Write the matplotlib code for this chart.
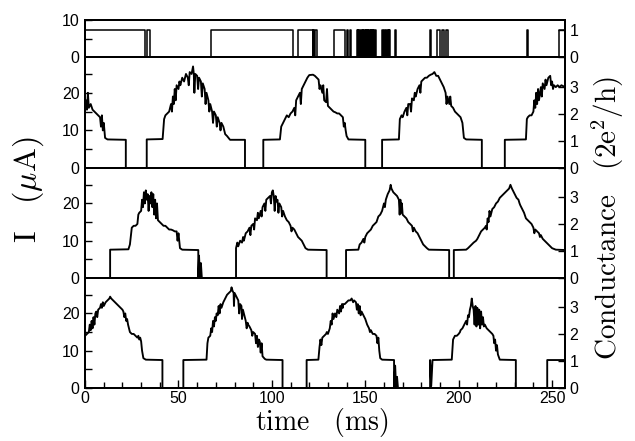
import matplotlib
matplotlib.use('Agg')
import matplotlib.pyplot as plt
from matplotlib.ticker import MultipleLocator, FixedLocator

plt.rcParams['mathtext.fontset'] = 'cm'
plt.rcParams['font.family'] = ['Liberation Sans', 'DejaVu Sans']

# ---------------- data ----------------
G_UNIT = 7.2        # current (uA) per conductance quantum 2e^2/h on the right axes
GATE_LEVEL = 7.3    # height of the "on" level in the top panel

# top panel: on/off pulses (ms)
gate_on = [0, 32.9, 67.2, 114.2, 122.2, 123.3, 133.0, 140.2, 141.6,
           145.4, 146.3, 147.1, 148.0, 148.9, 149.7, 150.6, 151.5, 152.3, 153.2,
           154.1, 155.0, 158.8, 159.8, 160.9, 161.9, 162.8, 166.1,
           184.6, 188.3, 191.0, 193.1, 236.6, 253.5]
gate_off = [32.1, 35.0, 111.2, 121.8, 122.7, 124.3, 139.2, 140.6, 142.1,
            146.0, 146.9, 147.8, 148.6, 149.5, 150.4, 151.2, 152.1, 153.0, 153.9,
            154.8, 156.0, 159.5, 160.5, 161.6, 162.5, 163.3, 166.5,
            185.0, 190.0, 192.4, 194.5, 237.0, 257.0]

# panel 2 trace
t1 = [0, 0.5, 1, 1.5, 2, 3, 4, 5, 6, 7, 8, 8.5, 9, 9.5, 10, 10.7, 12, 21.8, 21.8, 33, 33,
      41.5, 42.3, 43, 44, 45, 46, 46.5, 47, 47.5, 48, 48.5, 49, 50, 50.5, 51, 52, 53, 54, 55,
      55.5, 56, 57, 57.8, 58.2, 58.5, 59, 60, 60.5, 61, 62, 62.5, 63, 64, 64.5, 65, 66, 66.5,
      67, 68, 68.5, 69, 70, 70.5, 71, 72, 72.5, 73, 74, 75, 76, 77.6, 85.6, 85.6, 95.4, 95.4,
      104.3, 105, 106, 107, 108, 109, 110, 111, 112, 112.5, 113, 114, 115, 115.5, 116, 117,
      118, 119, 120, 122, 123, 124, 125, 125.5, 126, 127, 127.5, 128, 129, 129.5, 130, 131,
      132, 133, 134, 135, 136, 137, 138, 138.5, 139, 139.5, 140, 141, 150, 150, 159, 159,
      168, 168.5, 169.4, 170, 171, 172, 172.5, 173, 174, 174.5, 175, 176, 176.5, 177, 178,
      179, 179.5, 180, 181, 182, 183, 184, 185, 186, 187, 188, 189, 190, 191, 192, 193,
      193.5, 194, 195, 195.5, 196, 197, 198, 199, 200, 201, 202, 202.8, 204, 212.4, 212.4,
      224.7, 224.7, 236, 236.5, 237, 238, 239, 240, 240.5, 241, 241.5, 242, 242.5, 243, 244,
      244.5, 245, 246, 246.5, 247, 248, 249, 249.5, 250, 250.5, 251, 252, 253, 254, 255, 257]
i1 = [16, 18, 15.5, 20, 16, 17, 15.5, 15, 14.5, 14, 13.5, 11, 14, 10, 12, 8, 7.6, 7.5, 0, 0, 7.6,
      7.7, 13, 14, 14.5, 15, 17, 15, 19, 17, 21, 18, 22, 21, 23, 22, 24, 23, 25, 24,
      22, 25.5, 25, 27, 25, 20, 25, 24.5, 21, 24, 23, 19, 22.5, 21, 17, 20, 18, 15,
      17, 15, 12, 15, 14, 11, 13.5, 12, 10, 12, 11, 9, 8.5, 7.5, 7.5, 0, 0, 7.5,
      7.6, 11, 12, 13, 14, 13.5, 14.5, 15, 16, 14, 18, 19, 20, 17, 21, 22,
      23, 24, 24.7, 24.8, 24.5, 24, 23.5, 21, 22, 20, 22, 18, 17.5, 21, 16.5, 16,
      15.5, 15, 14.8, 14.5, 14.5, 14, 13.5, 11, 12, 10, 8.5, 7.6, 7.5, 0, 0, 7.5,
      7.6, 13, 14, 13.5, 15, 16, 14, 17, 17, 15, 18.5, 18, 20, 19, 21,
      22, 20, 23, 23.5, 24, 24, 24.5, 24.8, 25, 25.5, 24.5, 24.5, 23.5, 22.5, 21.5, 20,
      17, 19, 17, 19, 16.5, 16, 15, 14.5, 14, 13.5, 12, 8, 7.6, 7.5, 0,
      0, 7.5, 7.6, 13, 13.5, 14, 14, 15, 18, 16, 20, 17, 21, 18, 21.5,
      19, 22.5, 21, 23.5, 22, 24, 24.5, 22, 23, 21, 22, 21.5, 22, 21.5, 22, 21.5]

# panel 3 trace
t2 = [0, 13.4, 13.4, 23.2, 24, 25, 26, 27, 28, 28.5, 29, 30, 30.5, 31, 31.5, 32, 32.5, 33,
      33.5, 34, 34.5, 35, 35.5, 36, 36.5, 37, 37.5, 38, 38.5, 39, 40, 41, 42, 43, 44, 45, 46,
      47, 48, 49, 49.5, 50, 50.8, 52, 60.6, 60.6, 61, 61.5, 62, 62.5, 80.8, 80.8, 81.5, 82,
      83, 84, 84.6, 85, 86, 87, 88, 88.5, 89, 90, 90.5, 91, 92, 92.5, 93, 94, 94.5, 95, 96,
      96.5, 97, 98, 99, 99.5, 100, 100.5, 101, 101.5, 102, 102.5, 103, 103.5, 104, 105, 105.5,
      106, 107, 108, 109, 110, 110.5, 111, 112, 113, 114, 115, 116, 117, 118, 119.3, 129.3,
      129.3, 139.7, 139.7, 146.3, 147, 148, 149, 149.5, 150, 151, 152, 153, 154, 155, 156,
      157, 158, 159, 160, 160.5, 161, 162, 163, 163.6, 164, 165, 166, 167, 168, 168.4, 168.8,
      169.2, 169.6, 170, 171, 172, 173, 174, 175, 175.5, 176, 177, 178, 179, 180, 181, 182,
      183, 184, 194.9, 194.9, 197.4, 197.4, 204, 205, 206, 207, 208, 209.3, 210, 211, 212,
      213, 214, 214.6, 215, 215.5, 216, 216.5, 217, 218, 219, 220, 221, 222, 223, 224, 225,
      226, 227, 227.7, 228.5, 229, 230, 231, 232, 232.6, 233, 234, 235, 236, 237, 238, 239,
      240, 240.5, 241, 242, 243, 243.5, 244, 245, 246, 247, 248, 249, 250, 251, 252, 257]
i2 = [0, 0, 7.6, 7.7, 9, 13.5, 14, 14, 14.5, 17, 17.5, 18, 21, 19, 23, 20, 23.5, 21,
      22.5, 18, 22, 20, 23, 19, 22.5, 17, 21, 16, 20, 15.5, 15, 14.5, 14, 14, 13.5, 13, 13,
      12.8, 12.5, 12.5, 10, 12, 8, 7.6, 7.5, 0, 6, 0, 4, 0, 0, 8, 9.5, 8.5,
      10, 9.5, 11, 10, 12, 12.5, 13.5, 11.5, 14, 14.5, 13, 16, 15.5, 17.5, 16, 18, 16.5, 19, 20,
      18, 21, 21.5, 22, 20, 23, 23.5, 22, 18, 22, 20.5, 21, 17.5, 20, 19, 16.5,
      18, 16.5, 15.5, 15, 14, 12.5, 13.5, 13, 12, 11, 10.5, 10, 9, 8, 7.6, 7.5,
      0, 0, 7.5, 7.6, 9, 9.5, 10.5, 9.5, 11, 12, 12.5, 13, 14, 14.5, 15,
      16.5, 17, 18, 20, 19, 21, 22.5, 23.5, 25, 24, 23, 22.5, 22, 21, 17, 21,
      17.5, 20, 17, 16.5, 16, 15, 14.5, 14, 12.5, 13.5, 12.5, 12, 11, 10, 9, 8.5,
      8, 7.6, 7.5, 0, 0, 7.5, 7.6, 8, 8.5, 9, 9.5, 10, 10.5, 11.5, 12.5,
      13, 13.5, 14, 13, 16, 15, 18, 16.5, 18.5, 19, 20, 20.5, 21.5, 22, 22.5, 23,
      23.5, 24, 25, 24, 23.5, 22.5, 21.5, 21, 20, 19.5, 18.5, 17.5, 16, 15.5, 15, 14.5,
      13.5, 12, 13, 12.5, 12, 11, 11.5, 10.5, 10, 9.5, 9, 8.5, 8, 7.8, 7.6, 7.5]

# panel 4 trace
t3 = [0, 1, 2, 2.5, 3, 3.5, 4, 4.5, 5, 5.5, 6, 6.5, 7, 8, 8.5, 9, 9.5, 10, 11, 12, 13, 13.4,
      14, 15, 16, 17, 18, 19, 20, 20.5, 21, 21.5, 22, 22.5, 23, 23.5, 24, 25, 26, 27, 28, 28.5,
      29, 29.5, 30, 30.5, 31.2, 32.5, 41.4, 41.4, 52.6, 52.6, 65, 65.5, 66, 67, 67.5, 68, 68.5,
      69, 69.5, 70, 70.4, 71, 71.5, 72, 72.5, 73, 74, 75, 76, 77, 78, 78.4, 79, 79.5, 79.7, 80,
      81, 82, 82.5, 83, 83.7, 84, 84.5, 85, 86, 86.5, 87, 87.3, 88, 89, 89.5, 90, 91, 91.5, 92,
      92.5, 93, 93.5, 94, 94.5, 95, 96.2, 97, 105.7, 105.7, 118.6, 118.6, 124.9, 125.5, 126,
      126.5, 127, 128, 129, 129.4, 130, 131, 131.5, 132, 132.5, 133, 133.8, 134.5, 135, 136,
      136.5, 137, 137.5, 138, 138.2, 139, 140, 141, 142, 142.7, 143.5, 144, 145, 145.5, 146,
      146.5, 147, 147.5, 148, 149, 150, 151, 152, 152.5, 153, 154, 155, 156, 156.5, 157, 157.5,
      158, 159, 165.4, 165.4, 166, 166.5, 167, 167.5, 184.7, 184.7, 185.3, 186, 196.3, 197, 198,
      199, 200, 200.7, 201, 202, 203, 204, 204.5, 205, 205.5, 206, 206.5, 207, 207.5, 208, 208.5,
      209, 209.5, 210, 210.5, 211, 211.5, 212, 212.5, 213, 213.5, 214, 215, 216, 217, 218, 218.6,
      219, 219.5, 220, 220.5, 221, 222, 230.6, 230.6, 247.4, 247.4, 257]
i3 = [14, 14.5, 15, 17, 15.5, 18, 16, 19, 17, 20, 20.5, 19, 21, 21.5, 22.5, 21.5, 23, 22, 23, 23.5, 24, 24.5,
      24, 23.5, 23, 22.5, 22, 21.5, 21, 20.5, 19, 20, 18, 18.5, 17, 16, 15, 14.5, 14.5, 14, 13.5, 14,
      13, 13.5, 12.5, 10, 8, 7.6, 7.5, 0, 0, 7.5, 7.6, 12, 13.5, 14, 16, 15, 18,
      16.5, 19, 18, 20, 19.5, 22, 20, 22.5, 21.5, 23, 24, 25, 25.5, 26, 27, 26, 25.5, 22, 25.5,
      24.5, 23.5, 20, 22.5, 22, 18.5, 21, 20, 18, 16, 17.5, 17, 16.5, 15.5, 14, 15, 14.5, 12, 14,
      11, 13, 12.5, 9.5, 12, 8.5, 7.8, 7.6, 7.5, 0, 0, 7.5, 7.6, 11, 13,
      11.5, 13.5, 14, 14.5, 15, 14.5, 16, 18, 17, 20, 18.5, 20, 19, 21, 20,
      22, 20.5, 22.5, 21.5, 22.5, 22.5, 23, 23.5, 23.5, 24, 23, 23.5, 23, 21, 22.5,
      20, 22, 19.5, 20.5, 19.5, 18.5, 17, 16, 15, 15.5, 14.5, 14.5, 14, 12, 13.5, 10,
      8, 7.6, 7.5, 0, 6, 0, 3, 0, 0, 7.5, 0.5, 7.5, 7.6, 13, 14,
      14, 14.5, 15, 15.5, 16, 17, 18, 17, 19.5, 19, 21, 22, 24, 22, 21, 17,
      22, 16.5, 21.5, 17, 21, 16, 20.5, 17, 19, 16.5, 17, 16, 15.5, 15, 14.5, 14,
      12, 13, 10, 11.5, 9, 7.6, 7.5, 0, 0, 7.5, 7.5]

# ---------------- figure ----------------
fig = plt.figure(figsize=(6.35, 4.41), dpi=100)
L, W = 0.134, 0.756
ax0 = fig.add_axes([L, 0.8707, W, 0.0839])
ax1 = fig.add_axes([L, 0.619, W, 0.2517])
ax2 = fig.add_axes([L, 0.3696, W, 0.2494])
ax3 = fig.add_axes([L, 0.1202, W, 0.2494])

TICKFS = 11.5
XMAX = 257
IMAX = 29.5

# top panel as a step signal built from on/off times
gx, gy = [], []
for on, off in zip(gate_on, gate_off):
    gx += [on, on, off, off]
    gy += [0, GATE_LEVEL, GATE_LEVEL, 0]
ax0.plot(gx, gy, color='black', lw=1.1)

for ax, t, i in ((ax1, t1, i1), (ax2, t2, i2), (ax3, t3, i3)):
    ax.plot(t, i, color='black', lw=1.35)

def style(ax, ymax, yt, ymin_step, rticks, rmax, bottom):
    ax.set_xlim(0, XMAX)
    ax.set_ylim(0, ymax)
    ax.yaxis.set_major_locator(FixedLocator(yt))
    ax.yaxis.set_minor_locator(MultipleLocator(ymin_step))
    ax.xaxis.set_major_locator(MultipleLocator(50))
    ax.xaxis.set_minor_locator(MultipleLocator(10))
    for s in ax.spines.values():
        s.set_linewidth(1.4)
    ax.tick_params(axis='y', which='major', direction='in', length=5, width=1.0,
                   labelsize=TICKFS, pad=4)
    ax.tick_params(axis='y', which='minor', direction='in', length=5, width=1.0)
    if bottom:
        ax.tick_params(axis='x', which='major', direction='in', length=6, width=1.0,
                       labelsize=TICKFS, pad=2, top=False)
        ax.tick_params(axis='x', which='minor', direction='in', length=4, width=1.0, top=False)
    else:
        ax.tick_params(axis='x', which='both', bottom=False, top=False, labelbottom=False)
    r = ax.twinx()
    r.set_ylim(0, rmax)
    r.yaxis.set_major_locator(FixedLocator(rticks))
    r.tick_params(axis='y', direction='in', length=5, width=1.0, labelsize=TICKFS, pad=3)
    for s in r.spines.values():
        s.set_linewidth(1.4)
    return r

style(ax0, 10, [0, 10], 5, [0, 1], 10 / GATE_LEVEL, False)
style(ax1, IMAX, [0, 10, 20], 5, [0, 1, 2, 3], IMAX / G_UNIT, False)
style(ax2, IMAX, [0, 10, 20], 5, [0, 1, 2, 3], IMAX / G_UNIT, False)
style(ax3, IMAX, [0, 10, 20], 5, [0, 1, 2, 3], IMAX / G_UNIT, True)

fig.text(0.044, 0.57, r'$\mathrm{I}\ \ \ (\mu\mathrm{A})$', rotation=90,
         ha='center', va='center', fontsize=23)
fig.text(0.957, 0.505, r'$\mathrm{Conductance}\ \ \ (2\mathrm{e}^2/\mathrm{h})$', rotation=90,
         ha='center', va='center', fontsize=21)
fig.text(0.507, 0.004, r'$\mathrm{time}\ \ \ (\mathrm{ms})$',
         ha='center', va='bottom', fontsize=20)

fig.savefig('out.png', dpi=100)
